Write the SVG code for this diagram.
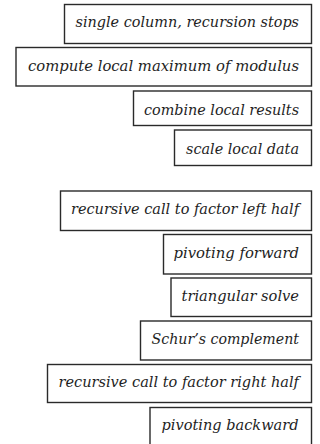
<svg xmlns="http://www.w3.org/2000/svg" width="320" height="444" viewBox="0 0 320 444">
<style>
rect{fill:#fff;stroke:#2a2a2a;stroke-width:1.4}
text{font-family:"DejaVu Serif","Liberation Serif",serif;font-style:italic;font-size:15.3px;fill:#1e1e1e;text-anchor:end}
</style>
<rect x="0" y="0" width="320" height="444" style="stroke:none"/>
<g id="n1"><rect x="64.5" y="4.5" width="247" height="39"/><text x="299" y="27" textLength="223.5" lengthAdjust="spacingAndGlyphs">single column, recursion stops</text></g>
<g id="n2"><rect x="16" y="47.5" width="295.5" height="38.5"/><text x="299" y="71" textLength="271" lengthAdjust="spacingAndGlyphs">compute local maximum of modulus</text></g>
<g id="n3"><rect x="133.5" y="91" width="178" height="34.5"/><text x="299" y="114.5" textLength="155" lengthAdjust="spacingAndGlyphs">combine local results</text></g>
<g id="n4"><rect x="174.5" y="130" width="137" height="35.5"/><text x="299" y="153.5" textLength="113" lengthAdjust="spacingAndGlyphs">scale local data</text></g>
<g id="n5"><rect x="60.5" y="191" width="251" height="39.5"/><text x="299" y="214" textLength="228" lengthAdjust="spacingAndGlyphs">recursive call to factor left half</text></g>
<g id="n6"><rect x="163.5" y="234.5" width="148" height="39.5"/><text x="299" y="257.5" textLength="125.5" lengthAdjust="spacingAndGlyphs">pivoting forward</text></g>
<g id="n7"><rect x="171" y="278" width="140.5" height="38.5"/><text x="299" y="300.5" textLength="117.5" lengthAdjust="spacingAndGlyphs">triangular solve</text></g>
<g id="n8"><rect x="140.5" y="321" width="171" height="39"/><text x="299" y="343.5" textLength="147.5" lengthAdjust="spacingAndGlyphs">Schur’s complement</text></g>
<g id="n9"><rect x="47.5" y="364.5" width="264" height="38"/><text x="299" y="386.8" textLength="240.5" lengthAdjust="spacingAndGlyphs">recursive call to factor right half</text></g>
<g id="n10"><rect x="150" y="407.5" width="161.5" height="40"/><text x="298.5" y="430" textLength="137" lengthAdjust="spacingAndGlyphs">pivoting backward</text></g>
<g id="connectors"/>
</svg>
